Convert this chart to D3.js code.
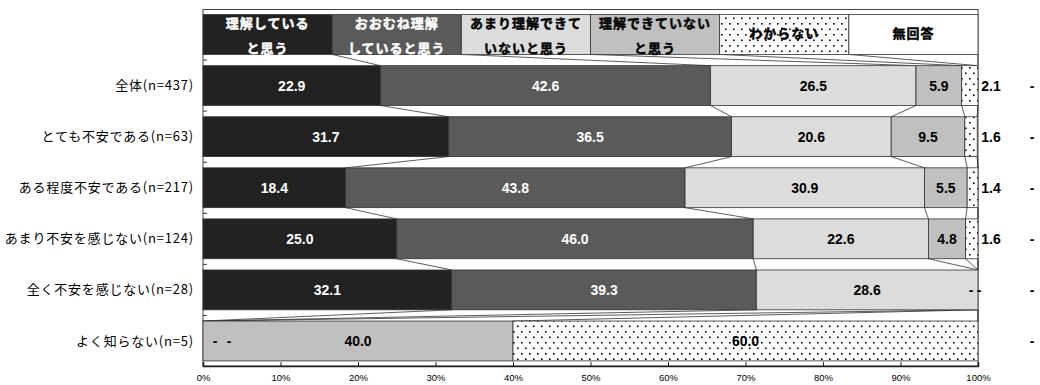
<!DOCTYPE html>
<html><head><meta charset="utf-8">
<script src="https://cdn.jsdelivr.net/npm/d3@7"></script>
<style>body{margin:0;background:#fff}svg{display:block}</style>
</head><body><div id="chart"></div>
<script>
const categories = ["全体(n=437)","とても不安である(n=63)","ある程度不安である(n=217)","あまり不安を感じない(n=124)","全く不安を感じない(n=28)","よく知らない(n=5)"];
const seriesNames = [["理解している","と思う"],["おおむね理解","していると思う"],["あまり理解できて","いないと思う"],["理解できていない","と思う"],["わからない"],["無回答"]];
const s1 = [22.9, 31.7, 18.4, 25.0, 32.1, 0];
const s2 = [42.6, 36.5, 43.8, 46.0, 39.3, 0];
const s3 = [26.5, 20.6, 30.9, 22.6, 28.6, 0];
const s4 = [5.9, 9.5, 5.5, 4.8, 0, 40.0];
const s5 = [2.1, 1.6, 1.4, 1.6, 0, 60.0];
const s6 = [0, 0, 0, 0, 0, 0];
const tickValues = [0,10,20,30,40,50,60,70,80,90,100];
const tickLabels = ["0%","10%","20%","30%","40%","50%","60%","70%","80%","90%","100%"];

const series = [s1,s2,s3,s4,s5,s6];
const fills = ["#222222","#5a5a5a","#dcdcdc","#c0c0c0","url(#dots)","#ffffff"];
const textColors = ["#fff","#fff","#000","#000","#000","#000"];

const W=1040,H=385;
const svg = d3.select("#chart").append("svg").attr("width",W).attr("height",H);
const defs = svg.append("defs");
const pat = defs.append("pattern").attr("id","dots").attr("width",8).attr("height",11).attr("patternUnits","userSpaceOnUse");
pat.append("rect").attr("width",8).attr("height",11).attr("fill","#fff");
pat.append("rect").attr("x",1).attr("y",1).attr("width",1.6).attr("height",1.6).attr("fill","#000");
pat.append("rect").attr("x",5).attr("y",6.5).attr("width",1.6).attr("height",1.6).attr("fill","#000");

const x = d3.scaleLinear().domain([0,100]).range([203,978]);
const y = d3.scaleBand().domain(d3.range(7)).range([9.5,366]).paddingInner(0.22).paddingOuter(0.1);

const rows = [];
rows.push(seriesNames.map(()=>100/seriesNames.length));
categories.forEach((c,i)=>rows.push(series.map(s=>s[i])));
const stacked = rows.map(r=>{let c=0;return r.map(v=>{const a=c;c+=v;return [a,Math.min(c,100)];});});

svg.append("rect").attr("x",x(0)).attr("y",9.5).attr("width",x(100)-x(0)).attr("height",366-9.5)
  .attr("fill","none").attr("stroke","#444").attr("stroke-width",1);

const g = svg.append("g");
for(let r=0;r<stacked.length-1;r++){
  for(let k=0;k<series.length;k++){
    g.append("line")
      .attr("x1",x(stacked[r][k][1])).attr("y1",y(r)+y.bandwidth())
      .attr("x2",x(stacked[r+1][k][1])).attr("y2",y(r+1))
      .attr("stroke","#333").attr("stroke-width",0.8);
  }
}

stacked.forEach((row,r)=>{
  row.forEach((seg,k)=>{
    g.append("rect").attr("x",x(seg[0])).attr("y",y(r))
      .attr("width",Math.max(0,x(seg[1])-x(seg[0]))).attr("height",y.bandwidth())
      .attr("fill",fills[k]).attr("stroke","#333").attr("stroke-width",0.8);
  });
});

const lg = svg.append("g").attr("font-family","'Noto Sans CJK JP',sans-serif").attr("font-weight","700")
  .attr("font-size","13px").attr("letter-spacing","1px").attr("text-anchor","middle");
seriesNames.forEach((lines,k)=>{
  const seg = stacked[0][k];
  const cx = x((seg[0]+seg[1])/2);
  const cy = y(0)+y.bandwidth()/2;
  lines.forEach((t,j)=>{
    const yy = lines.length===1 ? cy-1 : (j===0? cy-11 : cy+14);
    lg.append("text").attr("x",cx).attr("y",yy).attr("dy","0.35em").attr("fill",textColors[k])
      .attr("stroke",textColors[k]).attr("stroke-width",0.45).text(t);
  });
});

const vl = svg.append("g").attr("font-family","'Liberation Sans',Arial,sans-serif").attr("font-weight","700")
  .attr("font-size","14px").attr("text-anchor","middle");
categories.forEach((c,i)=>{
  const r=i+1; const cy=y(r)+y.bandwidth()/2;
  let leftZero=0, rightZero=0;
  series.forEach((s,k)=>{
    const v=s[i]; const seg=stacked[r][k];
    let lx, txt, col=textColors[k];
    if(k===series.length-1){ lx = x(100)+54; txt = v===0?"-":v.toFixed(1); col="#000"; }
    else if(v===0){
      txt="-"; col="#000";
      if(seg[0]<=0){ if(leftZero>=2) return; lx = x(0)+12+14*leftZero; leftZero++; }
      else { lx = x(100)-7+8*rightZero; rightZero++; }
    }
    else if(v<3 && k===4){ lx = x(100)+13; txt=v.toFixed(1); col="#000"; }
    else { lx = x((seg[0]+seg[1])/2); txt=v.toFixed(1); }
    vl.append("text").attr("x",lx).attr("y",cy).attr("dy","0.36em").attr("fill",col).text(txt);
  });
});

const cl = svg.append("g").attr("font-family","'Noto Sans CJK JP',sans-serif").attr("font-size","13px")
  .attr("letter-spacing","0.8px").attr("text-anchor","end").attr("fill","#000");
categories.forEach((c,i)=>{
  cl.append("text").attr("x",194).attr("y",y(i+1)+y.bandwidth()/2).attr("dy","0.35em").text(c);
});

for(let r=1;r<=6;r++){
  const yy = y(r) - y.step()*y.paddingInner()/2;
  svg.append("line").attr("x1",x(0)).attr("x2",x(0)+4).attr("y1",yy).attr("y2",yy).attr("stroke","#333").attr("stroke-width",1);
}

const xAxis = d3.axisBottom(x).tickValues(tickValues).tickFormat((d,i)=>tickLabels[i]).tickSize(-4).tickPadding(8);
const ax = svg.append("g").attr("transform","translate(0,366)").call(xAxis);
ax.select(".domain").attr("stroke","#222").attr("stroke-width",1.6);
ax.selectAll(".tick line").attr("stroke","#222");
ax.selectAll(".tick text").attr("font-family","'Liberation Sans',Arial,sans-serif").attr("font-size","9.5px").attr("fill","#000");
</script></body></html>
